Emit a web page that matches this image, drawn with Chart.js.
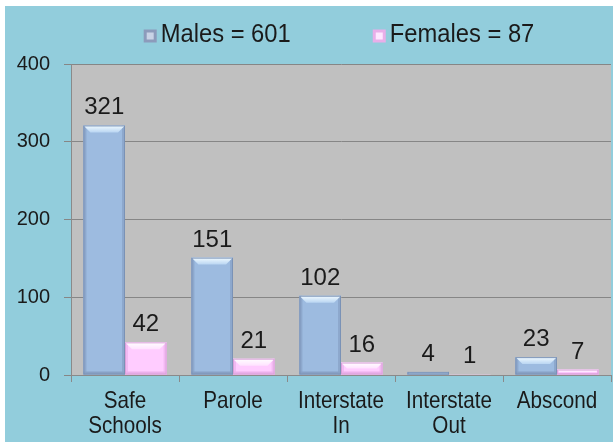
<!DOCTYPE html>
<html>
<head>
<meta charset="utf-8">
<script src="https://cdn.jsdelivr.net/npm/chart.js@4.4.0/dist/chart.umd.min.js"></script>
<style>
  html, body { margin: 0; padding: 0; background: #ffffff; }
  #wrap { position: absolute; left: 5px; top: 6px; width: 608px; height: 436px; background: #92CDDC; }
</style>
</head>
<body>
<div id="wrap"><canvas id="chart"></canvas></div>
<script>
const categories = [['Safe', 'Schools'], 'Parole', ['Interstate', 'In'], ['Interstate', 'Out'], 'Abscond'];
const males = [321, 151, 102, 4, 23];
const females = [42, 21, 16, 1, 7];
const seriesNames = ['Males = 601', 'Females = 87'];

const plain = '"Liberation Sans", Arial, sans-serif';
const squeeze = 0.86;       // category labels use a narrow face
const legendSqueeze = 0.95;

const bevel = [
  { body: '#9DBBE0', hi: '#F2FBFF', hi2: '#B9D5F2', side: '#8DA8CD', bottom: '#88A1C5', edge: '#7A92B6', marker: '#8C9BBB', markerHi: '#C9D3E6' },
  { body: '#FFCCFF', hi: '#FFFFFF', hi2: '#FFE2FF', side: '#F2B9F2', bottom: '#EBB0EB', edge: '#D9A0D9', marker: '#E9AEE9', markerHi: '#FFE6FF' }
];

// grey plot background
const plotBg = {
  id: 'plotBg',
  beforeDraw(chart) {
    const { ctx, chartArea: a } = chart;
    ctx.save();
    ctx.fillStyle = '#C0C0C0';
    ctx.fillRect(a.left, a.top, a.right - a.left, a.bottom - a.top);
    ctx.restore();
  }
};

// bevelled bar look + value labels
const bevelBars = {
  id: 'bevelBars',
  afterDatasetsDraw(chart) {
    const ctx = chart.ctx;
    const poly = (pts, fill) => {
      ctx.beginPath();
      ctx.moveTo(pts[0][0], pts[0][1]);
      for (let k = 1; k < pts.length; k++) ctx.lineTo(pts[k][0], pts[k][1]);
      ctx.closePath();
      ctx.fillStyle = fill;
      ctx.fill();
    };
    chart.data.datasets.forEach((ds, i) => {
      const meta = chart.getDatasetMeta(i);
      const pal = bevel[i];
      meta.data.forEach((bar, j) => {
        const p = bar.getProps(['x', 'y', 'base', 'width'], true);
        const l = p.x - p.width / 2, r = p.x + p.width / 2;
        const t = Math.min(p.y, p.base), b = Math.max(p.y, p.base);
        const h = b - t;
        ctx.save();
        if (h > 0.5) {
          const tv = Math.min(7, h / 2);
          const sv = Math.min(3, h / 3);
          ctx.fillStyle = pal.side;
          ctx.fillRect(l, t, sv, h);
          ctx.fillRect(r - sv, t, sv, h);
          ctx.fillStyle = pal.bottom;
          ctx.fillRect(l, b - sv, p.width, sv);
          const g = ctx.createLinearGradient(0, t, 0, t + tv);
          g.addColorStop(0, pal.hi);
          g.addColorStop(1, pal.hi2);
          poly([[l, t], [r, t], [r - tv, t + tv], [l + tv, t + tv]], g);
          ctx.strokeStyle = pal.edge;
          ctx.lineWidth = 1;
          ctx.strokeRect(l + 0.5, t + 0.5, p.width - 1, Math.max(h - 1, 0.5));
        }
        ctx.fillStyle = '#1A1A1A';
        ctx.font = '24px ' + plain;
        ctx.textAlign = 'center';
        ctx.textBaseline = 'alphabetic';
        ctx.fillText(String(ds.data[j]), p.x, t - 11);
        ctx.restore();
      });
    });
  }
};

// category labels in a narrow face, placed on the category scale
const xLabels = {
  id: 'xLabels',
  afterDraw(chart) {
    const { ctx } = chart;
    const xs = chart.scales.x;
    ctx.save();
    ctx.font = '24px ' + plain;
    ctx.fillStyle = '#1A1A1A';
    ctx.textAlign = 'center';
    ctx.textBaseline = 'middle';
    chart.data.labels.forEach((lab, i) => {
      const lines = Array.isArray(lab) ? lab : [lab];
      const cx = xs.getPixelForTick(i);
      lines.forEach((line, k) => {
        ctx.save();
        ctx.translate(cx, xs.top + 26 + k * 25);
        ctx.scale(squeeze, 1);
        ctx.fillText(line, 0, 0);
        ctx.restore();
      });
    });
    ctx.restore();
  }
};

// legend drawn across the top
const topLegend = {
  id: 'topLegend',
  afterDraw(chart) {
    const { ctx, chartArea: a } = chart;
    ctx.save();
    ctx.font = '25px ' + plain;
    ctx.textBaseline = 'middle';
    const box = 13, gapBox = 4, gapItem = 82;
    const widths = seriesNames.map(s => box + gapBox + ctx.measureText(s).width * legendSqueeze);
    const total = widths.reduce((s, w) => s + w, 0) + gapItem;
    let x = (a.left + a.right) / 2 - 2 - total / 2;
    const y = 29;
    seriesNames.forEach((name, i) => {
      const pal = bevel[i];
      ctx.fillStyle = pal.marker;
      ctx.fillRect(x, y - box / 2 + 1, box, box);
      ctx.fillStyle = pal.markerHi;
      ctx.fillRect(x + 3, y - box / 2 + 4, box - 6, box - 6);
      ctx.fillStyle = '#1A1A1A';
      ctx.textAlign = 'left';
      ctx.save();
      ctx.translate(x + box + gapBox, y);
      ctx.scale(legendSqueeze, 1);
      ctx.fillText(name, 0, 0);
      ctx.restore();
      x += widths[i] + gapItem;
    });
    ctx.restore();
  }
};

new Chart(document.getElementById('chart'), {
  type: 'bar',
  data: {
    labels: categories,
    datasets: [
      { label: seriesNames[0], data: males, backgroundColor: bevel[0].body, borderWidth: 0 },
      { label: seriesNames[1], data: females, backgroundColor: bevel[1].body, borderWidth: 0 }
    ]
  },
  options: {
    responsive: true,
    maintainAspectRatio: false,
    animation: false,
    layout: { padding: { top: 58, right: 2, left: 0, bottom: 0 } },
    datasets: { bar: { categoryPercentage: 0.77, barPercentage: 1.0 } },
    plugins: {
      legend: { display: false },
      tooltip: { enabled: false }
    },
    scales: {
      x: {
        grid: { drawOnChartArea: false, drawTicks: true, tickLength: 7, color: '#8A8A8A' },
        border: { color: '#8A8A8A', width: 1 },
        ticks: { display: false },
        afterFit(scale) { scale.height = 67; }
      },
      y: {
        min: 0,
        max: 400,
        ticks: { stepSize: 100, color: '#1A1A1A', font: { family: plain, size: 20 }, padding: 14 },
        grid: { color: '#868686', lineWidth: 1, tickLength: 7 },
        border: { color: '#8A8A8A', width: 1 },
        afterFit(scale) { scale.width = 66; }
      }
    }
  },
  plugins: [plotBg, bevelBars, xLabels, topLegend]
});
</script>
</body>
</html>
